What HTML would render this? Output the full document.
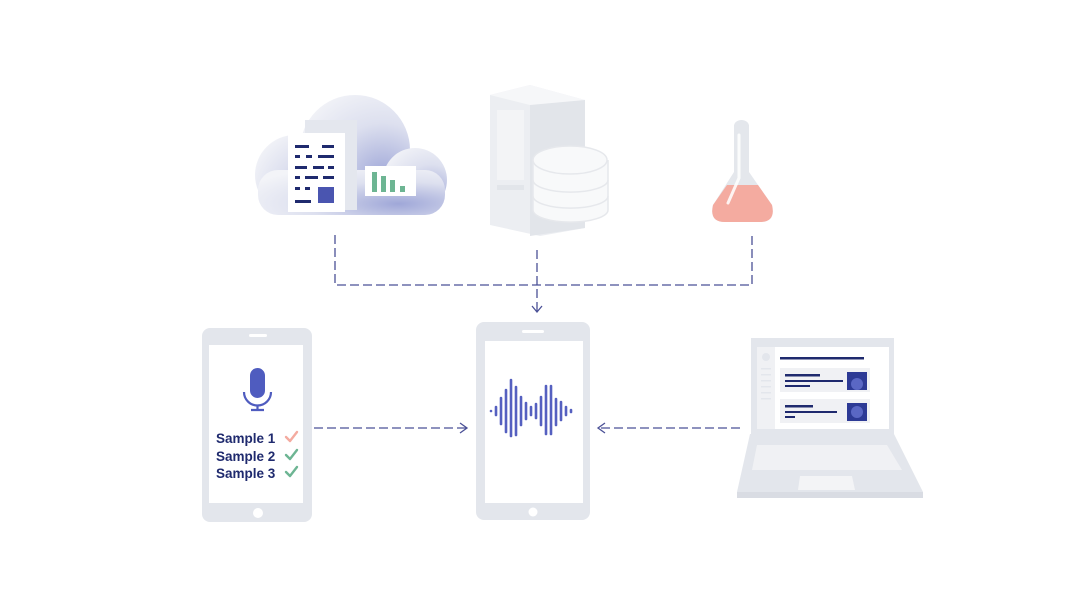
<!DOCTYPE html>
<html><head><style>html,body{margin:0;padding:0;background:#fff;}svg{display:block}</style></head><body>
<svg width="1080" height="615" viewBox="0 0 1080 615" xmlns="http://www.w3.org/2000/svg">
<defs>
<radialGradient id="cg" cx="0.75" cy="0.75" r="0.9"><stop offset="0" stop-color="#9fa7d8"/><stop offset="0.55" stop-color="#dde0ef"/><stop offset="1" stop-color="#f3f4f8"/></radialGradient>
</defs>
<!-- cloud -->
<g fill="url(#cg)">
<circle cx="355" cy="150" r="55"/><circle cx="295" cy="175" r="40"/><circle cx="415" cy="180" r="32"/>
<rect x="258" y="170" width="187" height="45" rx="20"/>
</g>
<rect x="305" y="120" width="52" height="90" fill="#e4e7ee"/>
<rect x="288" y="133" width="57" height="79" fill="#fff"/>
<g fill="#1f2a6e">
<rect x="295" y="145" width="14" height="3"/><rect x="322" y="145" width="12" height="3"/>
<rect x="295" y="155" width="5" height="3"/><rect x="306" y="155" width="6" height="3"/><rect x="318" y="155" width="16" height="3"/>
<rect x="295" y="166" width="12" height="3"/><rect x="313" y="166" width="11" height="3"/><rect x="328" y="166" width="6" height="3"/>
<rect x="295" y="176" width="5" height="3"/><rect x="305" y="176" width="13" height="3"/><rect x="323" y="176" width="11" height="3"/>
<rect x="295" y="187" width="5" height="3"/><rect x="305" y="187" width="5" height="3"/>
<rect x="295" y="200" width="16" height="3"/>
</g>
<rect x="318" y="187" width="16" height="16" fill="#4a55b0"/>
<rect x="365" y="166" width="51" height="30" fill="#fff"/>
<g fill="#6db593"><rect x="372" y="172" width="5" height="20"/><rect x="381" y="176" width="5" height="16"/><rect x="390" y="180" width="5" height="12"/><rect x="400" y="186" width="5" height="6"/></g>
<!-- server -->
<polygon points="490,95 530,85 585,100 585,228 540,236 490,225" fill="#eceef2"/>
<polygon points="530,100 585,100 585,228 530,236" fill="#e2e5ea"/>
<polygon points="490,95 530,85 585,100 530,105" fill="#f6f7f9"/>
<rect x="497" y="110" width="27" height="70" fill="#f3f4f6"/>
<rect x="497" y="185" width="27" height="5" fill="#e2e5ea"/>
<g fill="#f8f9fa" stroke="#e6e8ec" stroke-width="1.5">
<path d="M533,160 v50 a37,12 0 0 0 75,0 v-50"/>
<ellipse cx="570" cy="160" rx="37" ry="14"/>
<path d="M533,180 a37,12 0 0 0 75,0" fill="none"/>
<path d="M533,196 a37,12 0 0 0 75,0" fill="none"/>
</g>
<!-- flask -->
<path d="M734,126 a7.5,6 0 0 1 15,0 V172 L772,205 Q776,222 760,222 L725,222 Q709,222 713,205 L734,172 Z" fill="#e4e7ec"/>
<path d="M727,185 L758,185 L772,205 Q776,222 760,222 L725,222 Q709,222 713,205 Z" fill="#f4aba0"/>
<path d="M739,135 L739,178 L728,203" stroke="#fff" stroke-width="3" fill="none" stroke-linecap="round" opacity="0.85"/>
<!-- dashed connectors -->
<g stroke="#4a5096" stroke-width="1.3" fill="none" stroke-dasharray="9,4">
<path d="M335,235 V285 H752 V235"/>
<path d="M537,250 V311"/>
<path d="M314,428 H466"/>
<path d="M740,428 H600"/>
</g>
<g stroke="#4a5096" stroke-width="1.3" fill="none">
<path d="M532,306 L537,312 L542,306"/>
<path d="M460,423 L467,428 L460,433"/>
<path d="M605,423 L598,428 L605,433"/>
</g>
<!-- left phone -->
<rect x="202" y="328" width="110" height="194" rx="8" fill="#e3e6ec"/>
<rect x="209" y="345" width="94" height="158" fill="#fff"/>
<rect x="249" y="334" width="18" height="3" rx="1.5" fill="#fff"/>
<circle cx="258" cy="513" r="5" fill="#fff"/>
<rect x="250" y="368" width="15" height="30" rx="7.5" fill="#4f5cbf"/>
<path d="M244,392 a13.5,13.5 0 0 0 27,0" stroke="#4f5cbf" stroke-width="2.2" fill="none"/>
<path d="M257.5,406 V410 M251,410 H264" stroke="#4f5cbf" stroke-width="2.2"/>
<g font-family="'Liberation Sans',sans-serif" font-weight="bold" font-size="13.5" fill="#1f2a6e">
<text x="216" y="443">Sample 1</text><text x="216" y="461">Sample 2</text><text x="216" y="478">Sample 3</text>
</g>
<g fill="none" stroke-width="2.4" stroke-linecap="round" stroke-linejoin="round">
<path d="M286,437 l4,4 l7,-9" stroke="#f4aba0"/>
<path d="M286,455 l4,4 l7,-9" stroke="#6db593"/>
<path d="M286,472 l4,4 l7,-9" stroke="#6db593"/>
</g>
<!-- center phone -->
<rect x="476" y="322" width="114" height="198" rx="8" fill="#e3e6ec"/>
<rect x="485" y="341" width="98" height="162" fill="#fff"/>
<rect x="522" y="330" width="22" height="3" rx="1.5" fill="#fff"/>
<circle cx="533" cy="512" r="4.5" fill="#fff"/>
<g stroke="#5560c0" stroke-width="2.6" stroke-linecap="round">
<path d="M491,411v0M496,407v8M501,398v26M506,390v42M511,380v56M516,387v48M521,397v28M526,403v16M531,407v8M536,404v14M541,397v28M546,386v48M551,386v48M556,399v26M561,402v18M566,407v8M571,410v2"/>
</g>
<!-- laptop -->
<rect x="751" y="338" width="143" height="96" fill="#e3e6ec"/>
<rect x="757" y="347" width="132" height="82" fill="#fff"/>
<rect x="757" y="347" width="18" height="82" fill="#f0f1f4"/>
<circle cx="766" cy="357" r="4" fill="#e3e6ec"/>
<g fill="#e3e6ec"><rect x="761" y="368" width="10" height="1.5"/><rect x="761" y="374" width="10" height="1.5"/><rect x="761" y="380" width="10" height="1.5"/><rect x="761" y="386" width="10" height="1.5"/><rect x="761" y="392" width="10" height="1.5"/><rect x="761" y="398" width="10" height="1.5"/></g>
<rect x="780" y="357" width="84" height="2.5" fill="#1f2a6e"/>
<rect x="780" y="368" width="90" height="24" fill="#f0f1f4"/>
<rect x="780" y="399" width="90" height="24" fill="#f0f1f4"/>
<g fill="#1f2a6e"><rect x="785" y="374" width="35" height="2.5"/><rect x="785" y="380" width="58" height="2"/><rect x="785" y="385" width="25" height="2"/>
<rect x="785" y="405" width="28" height="2.5"/><rect x="785" y="411" width="52" height="2"/><rect x="785" y="416" width="10" height="2"/></g>
<rect x="847" y="372" width="20" height="18" fill="#2d3a95"/>
<rect x="847" y="403" width="20" height="18" fill="#2d3a95"/>
<circle cx="857" cy="384" r="6" fill="#5a67c4"/><circle cx="857" cy="412" r="6" fill="#5a67c4"/>
<polygon points="750,434 894,434 923,492 737,492" fill="#e3e6ec"/>
<polygon points="757,445 887,445 902,470 752,470" fill="#f0f1f4"/>
<polygon points="800,476 852,476 855,490 798,490" fill="#f3f4f6"/>
<rect x="737" y="492" width="186" height="6" fill="#d9dce3"/>
</svg>
</body></html>
